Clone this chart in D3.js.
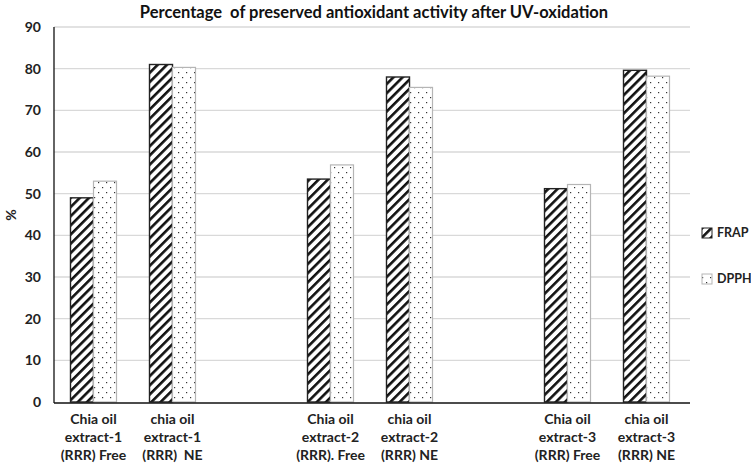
<!DOCTYPE html>
<html><head><meta charset="utf-8">
<script src="https://cdn.jsdelivr.net/npm/d3@7"></script>
<style>body{margin:0;background:#fff} text{white-space:pre}</style>
</head><body>
<svg id="c" width="751" height="464"></svg>
<script>
const categories = [
  ["Chia oil","extract-1","(RRR) Free"],
  ["chia oil","extract-1","(RRR)  NE"],
  null,
  ["Chia oil","extract-2","(RRR). Free"],
  ["chia oil","extract-2","(RRR) NE"],
  null,
  ["Chia oil","extract-3","(RRR) Free"],
  ["chia oil","extract-3","(RRR) NE"]
];
const seriesNames = ["FRAP","DPPH"];
const frap = [49.0, 81.0, null, 53.5, 78.0, null, 51.2, 79.6];
const dpph = [53.0, 80.3, null, 56.9, 75.5, null, 52.2, 78.2];
const yTicks = [0,10,20,30,40,50,60,70,80,90];
const title = "Percentage  of preserved antioxidant activity after UV-oxidation";

const svg = d3.select("#c");
const font = "Lato, 'Open Sans', sans-serif";
const m = {left:54, right:65, top:27, bottom:62};
const W = 751, H = 464;
const x = d3.scaleBand().domain(d3.range(categories.length)).range([m.left, W-m.right]).paddingInner(0).paddingOuter(0);
const y = d3.scaleLinear().domain([0,90]).range([H-m.bottom, m.top]);
const xs = d3.scaleBand().domain(seriesNames).range([0,46]);

const defs = svg.append("defs");
const p1 = defs.append("pattern").attr("id","frapPat").attr("patternUnits","userSpaceOnUse")
  .attr("width",6.5).attr("height",6.5).attr("patternTransform","rotate(45)");
p1.append("rect").attr("width",6.5).attr("height",6.5).attr("fill","#fff");
p1.append("rect").attr("x",0).attr("y",0).attr("width",2.6).attr("height",6.5).attr("fill","#111");
const p2 = defs.append("pattern").attr("id","dpphPat").attr("patternUnits","userSpaceOnUse")
  .attr("width",8).attr("height",10);
p2.append("rect").attr("width",8).attr("height",10).attr("fill","#fff");
p2.append("rect").attr("x",2).attr("y",2).attr("width",1.2).attr("height",1.2).attr("fill","#333");
p2.append("rect").attr("x",6).attr("y",7).attr("width",1.2).attr("height",1.2).attr("fill","#333");

// gridlines
svg.append("g").selectAll("line").data(yTicks.filter(d=>d>0)).join("line")
  .attr("x1",m.left).attr("x2",W-m.right+4).attr("y1",d=>y(d)).attr("y2",d=>y(d))
  .attr("stroke","#d9d9d9").attr("stroke-width",1.3);

// y tick labels
svg.append("g").selectAll("text").data(yTicks).join("text")
  .attr("x",41).attr("y",d=>y(d)).attr("dy","0.35em").attr("text-anchor","end")
  .attr("font-family",font).attr("font-weight","bold").attr("font-size",14).attr("fill","#222")
  .text(d=>d);

// bars
const styles = {FRAP:{fill:"url(#frapPat)",stroke:"#222",sw:1.4}, DPPH:{fill:"url(#dpphPat)",stroke:"#b5b5b5",sw:1.2}};
[[frap,"FRAP"],[dpph,"DPPH"]].forEach(([vals,name])=>{
  svg.append("g").selectAll("rect").data(vals.map((v,i)=>({v,i})).filter(d=>d.v!=null)).join("rect")
    .attr("x",d=>x(d.i)+x.bandwidth()/2-23+xs(name)).attr("width",xs.bandwidth())
    .attr("y",d=>y(d.v)).attr("height",d=>y(0)-y(d.v))
    .attr("fill",styles[name].fill).attr("stroke",styles[name].stroke).attr("stroke-width",styles[name].sw);
});

// axes lines
svg.append("line").attr("x1",m.left).attr("x2",m.left).attr("y1",y(90)).attr("y2",y(0)+1)
  .attr("stroke","#111").attr("stroke-width",1.3);
svg.append("line").attr("x1",m.left).attr("x2",W-m.right+4).attr("y1",y(0)+1).attr("y2",y(0)+1)
  .attr("stroke","#111").attr("stroke-width",1.6);

// x labels
const xl = svg.append("g");
categories.forEach((c,i)=>{
  if(!c) return;
  const t = xl.append("text").attr("text-anchor","middle").attr("font-family",font)
    .attr("font-weight","bold").attr("font-size",14).attr("fill","#222");
  c.forEach((line,j)=>{
    t.append("tspan").attr("x",x(i)+x.bandwidth()/2).attr("y",424+j*18).text(line);
  });
});

// y title
svg.append("text").attr("transform","translate(16,215) rotate(-90)").attr("text-anchor","middle")
  .attr("font-family",font).attr("font-weight","bold").attr("font-size",14).attr("fill","#222").text("%");

// title
svg.append("text").attr("x",374).attr("y",18).attr("text-anchor","middle")
  .attr("font-family",font).attr("font-weight","bold").attr("font-size",16.5).attr("fill","#111").text(title);

// legend
const lg = svg.append("g");
seriesNames.forEach((n,i)=>{
  const yy = 233 + i*46;
  lg.append("rect").attr("x",702).attr("y",yy-5).attr("width",10).attr("height",10)
    .attr("fill",styles[n].fill).attr("stroke",styles[n].stroke).attr("stroke-width",1);
  lg.append("text").attr("x",717).attr("y",yy).attr("dy","0.35em")
    .attr("font-family",font).attr("font-weight","bold").attr("font-size",12.5).attr("fill","#222").text(n);
});
</script>
</body></html>
